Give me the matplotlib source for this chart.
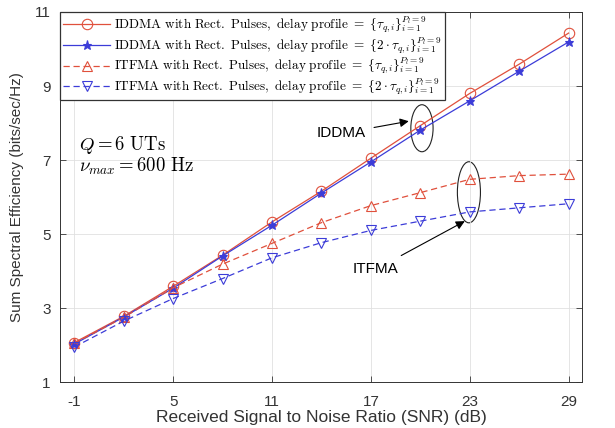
"""Sum spectral efficiency vs received SNR for IDDMA / ITFMA with rectangular pulses."""
import matplotlib
matplotlib.use("Agg")
import matplotlib.pyplot as plt
from matplotlib.patches import Ellipse

plt.rcParams["mathtext.fontset"] = "cm"
plt.rcParams["font.family"] = ["Liberation Sans", "DejaVu Sans"]
plt.rcParams["axes.unicode_minus"] = False

snr_db = [-1, 2, 5, 8, 11, 14, 17, 20, 23, 26, 29]
iddma_tau = [2.07, 2.78, 3.59, 4.43, 5.33, 6.16, 7.05, 7.93, 8.80, 9.59, 10.43]
iddma_2tau = [2.03, 2.76, 3.54, 4.41, 5.24, 6.11, 6.95, 7.81, 8.60, 9.40, 10.19]
itfma_tau = [2.05, 2.75, 3.55, 4.19, 4.75, 5.31, 5.77, 6.12, 6.48, 6.58, 6.62]
itfma_2tau = [1.95, 2.65, 3.26, 3.80, 4.36, 4.77, 5.10, 5.35, 5.60, 5.71, 5.82]

LABELS = [
    r"$\mathrm{IDDMA\ with\ Rect.\ Pulses,\ delay\ profile}\ =\ \lbrace\tau_{q,i}\rbrace_{i=1}^{P_l=9}$",
    r"$\mathrm{IDDMA\ with\ Rect.\ Pulses,\ delay\ profile}\ =\ \lbrace 2\cdot\tau_{q,i}\rbrace_{i=1}^{P_l=9}$",
    r"$\mathrm{ITFMA\ with\ Rect.\ Pulses,\ delay\ profile}\ =\ \lbrace\tau_{q,i}\rbrace_{i=1}^{P_l=9}$",
    r"$\mathrm{ITFMA\ with\ Rect.\ Pulses,\ delay\ profile}\ =\ \lbrace 2\cdot\tau_{q,i}\rbrace_{i=1}^{P_l=9}$",
]

RED = "#e0503c"
BLUE = "#3c3cd8"
INK = "#333333"

fig = plt.figure(figsize=(6.15, 4.28), dpi=100)
ax = fig.add_axes([0.098, 0.107, 0.848, 0.865])

ax.plot(snr_db, iddma_tau, "-o", color=RED, lw=0.9, ms=7.5, mfc="none", mew=0.8, label=LABELS[0])
ax.plot(snr_db, iddma_2tau, "-*", color=BLUE, lw=0.9, ms=6.5, mew=0.8, label=LABELS[1])
ax.plot(snr_db, itfma_tau, "--^", color=RED, lw=0.9, ms=7.5, mfc="none", mew=0.8,
        dashes=(5, 3), label=LABELS[2])
ax.plot(snr_db, itfma_2tau, "--v", color=BLUE, lw=0.9, ms=7.5, mfc="none", mew=0.8,
        dashes=(5, 3), label=LABELS[3])

ax.set_xlim(-1.85, 29.8)
ax.set_ylim(1, 11)
ax.set_xticks([-1, 5, 11, 17, 23, 29])
ax.set_yticks([1, 3, 5, 7, 9, 11])
ax.grid(True, color="#e0e0e0", lw=0.6)
ax.tick_params(direction="in", top=True, right=True, colors=INK, length=4, width=0.6)
ax.tick_params(axis="x", labelsize=11, pad=9)
ax.tick_params(axis="y", labelsize=11, pad=7)
for sp in ax.spines.values():
    sp.set_linewidth(0.7)
    sp.set_color(INK)

ax.set_xlabel("Received Signal to Noise Ratio (SNR) (dB)", fontsize=12.5, color=INK, labelpad=1)
ax.set_ylabel("Sum Spectral Efficiency (bits/sec/Hz)", fontsize=11, color=INK, labelpad=8)

leg = ax.legend(loc="upper left", bbox_to_anchor=(0.0, 1.0), fontsize=9.5, frameon=True,
                fancybox=False, edgecolor=INK, framealpha=1, borderpad=0.2,
                labelspacing=0.0, handlelength=3.6, handletextpad=0.3, borderaxespad=0)
leg.get_frame().set_linewidth(0.9)

ax.text(-0.7, 7.27, r"$Q = 6\ \mathrm{UTs}$", fontsize=13.5)
ax.text(-0.7, 6.68, r"$\nu_{max} = 600\ \mathrm{Hz}$", fontsize=13.5)

# circled groups with arrows
ax.add_patch(Ellipse((20.1, 7.86), 1.35, 1.27, fill=False, lw=0.8, color="#222222"))
ax.add_patch(Ellipse((22.95, 6.13), 1.4, 1.65, fill=False, lw=0.8, color="#222222"))
ax.annotate("IDDMA", xy=(19.3, 8.05), xytext=(15.2, 7.72), fontsize=11, ha="center", va="center",
            arrowprops=dict(arrowstyle="-|>", color="black", lw=0.8, mutation_scale=13,
                            shrinkA=4, shrinkB=0))
ax.annotate("ITFMA", xy=(22.7, 5.35), xytext=(17.3, 4.05), fontsize=11, ha="center", va="center",
            arrowprops=dict(arrowstyle="-|>", color="black", lw=0.8, mutation_scale=13,
                            shrinkA=6, shrinkB=0))

fig.savefig("out.png", dpi=100)
